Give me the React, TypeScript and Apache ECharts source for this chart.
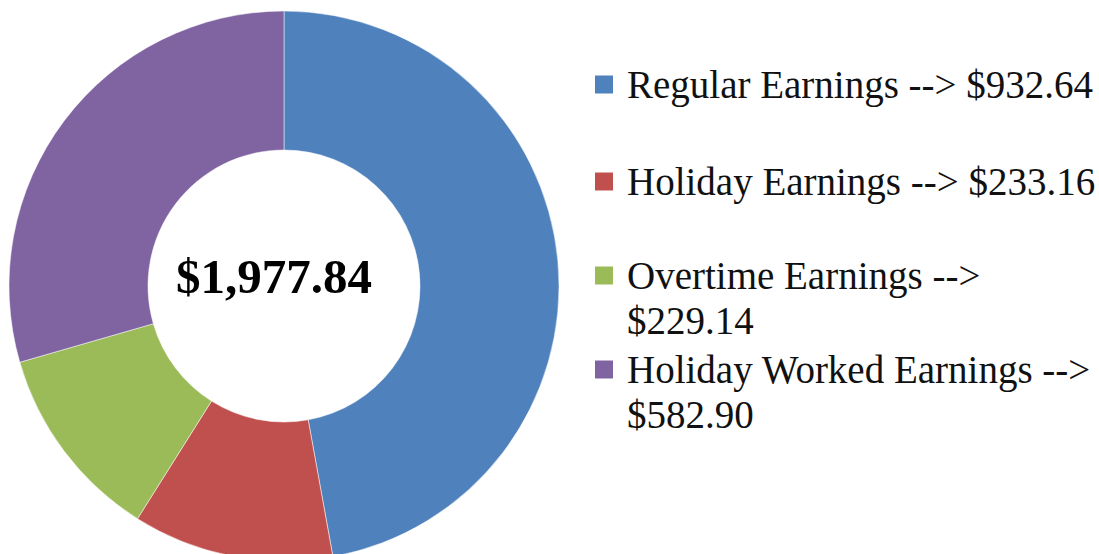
import React, { useEffect, useRef } from "react";
import * as echarts from "echarts";

const categories = [
  "Regular Earnings",
  "Holiday Earnings",
  "Overtime Earnings",
  "Holiday Worked Earnings",
];
const values = [932.64, 233.16, 229.14, 582.9];
const colors = ["#4F81BD", "#C0504D", "#9BBB59", "#8064A2"];
// legend label lines per category (as wrapped in the reference;
// a leading blank line keeps the marker beside the first line)
const legendLines = [
  ["Regular Earnings --> $932.64"],
  ["Holiday Earnings --> $233.16"],
  [" ", "Overtime Earnings -->", "$229.14"],
  [" ", "Holiday Worked Earnings -->", "$582.90"],
];
const legendTops = [62, 159, 208, 302];

const FONT = "Liberation Serif";

function fmtMoney(v: number): string {
  return "$" + v.toLocaleString("en-US", { minimumFractionDigits: 2, maximumFractionDigits: 2 });
}

export default function App() {
  const ref = useRef<HTMLDivElement>(null);
  useEffect(() => {
    if (!ref.current) return;
    const chart = echarts.init(ref.current, null, { renderer: "svg" });
    const total = values.reduce((a, b) => a + b, 0);
    const t = {
      fontFamily: FONT,
      fontSize: 39,
      lineHeight: 45,
      color: "#111",
    };
    const legends = categories.map((name, i) => ({
      data: [name],
      orient: "vertical",
      left: 593,
      top: legendTops[i],
      padding: 0,
      icon: "rect",
      itemWidth: 20,
      itemHeight: 20,
      selectedMode: false,
      formatter: () => legendLines[i].map((l) => `{t|${l}}`).join("\n"),
      textStyle: { ...t, padding: [0, 0, 0, 8], rich: { t } },
    }));
    chart.setOption({
      animation: false,
      color: colors,
      textStyle: { fontFamily: FONT },
      legend: legends,
      graphic: [
        {
          type: "text",
          x: 274,
          y: 276,
          style: {
            text: fmtMoney(total),
            fontFamily: FONT,
            fontWeight: "bold",
            fontSize: 49,
            fill: "#000",
            textAlign: "center",
            textVerticalAlign: "middle",
          },
        },
      ],
      series: [
        {
          type: "pie",
          center: [284, 286],
          radius: [136, 275],
          startAngle: 90,
          clockwise: true,
          label: { show: false },
          labelLine: { show: false },
          emphasis: { disabled: true },
          itemStyle: { borderColor: "#fff", borderWidth: 0.5 },
          data: categories.map((name, i) => ({ name, value: values[i] })),
        },
      ],
    });
    return () => chart.dispose();
  }, []);
  return (
    <div
      ref={ref}
      style={{ position: "fixed", left: 0, top: 0, width: 1099, height: 554, background: "#fff" }}
    />
  );
}
